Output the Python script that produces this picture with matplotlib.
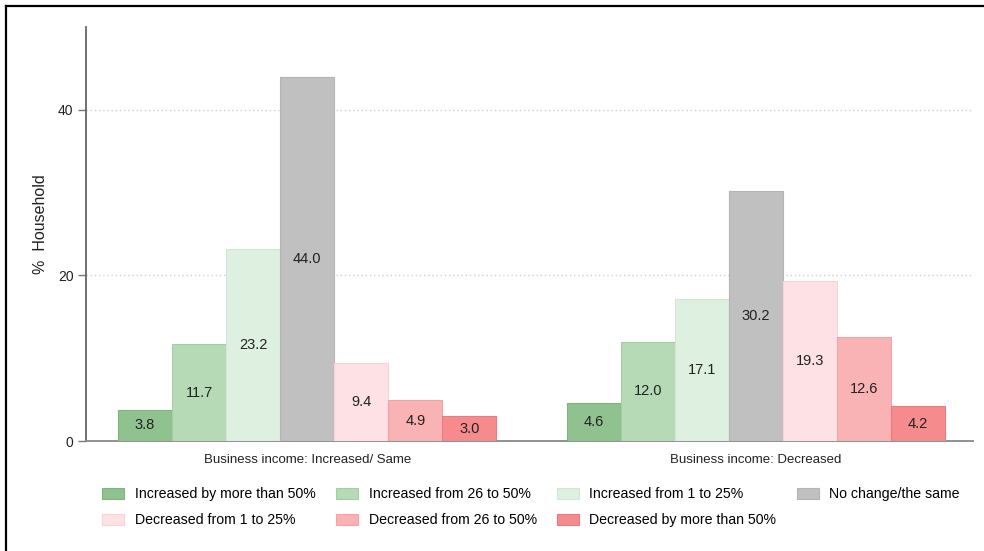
import matplotlib
matplotlib.use('Agg')
import matplotlib.pyplot as plt
from matplotlib.lines import Line2D
import numpy as np

plt.rcParams['font.family'] = ['Liberation Sans', 'DejaVu Sans']

groups = ['Business income: Increased/ Same', 'Business income: Decreased']
series = [
    'Increased by more than 50%',
    'Increased from 26 to 50%',
    'Increased from 1 to 25%',
    'No change/the same',
    'Decreased from 1 to 25%',
    'Decreased from 26 to 50%',
    'Decreased by more than 50%',
]
values = [
    [3.8, 4.6],
    [11.7, 12.0],
    [23.2, 17.1],
    [44.0, 30.2],
    [9.4, 19.3],
    [4.9, 12.6],
    [3.0, 4.2],
]
colors = ['#8fc28f', '#b5dab5', '#def0e0', '#c0c0c0', '#fde1e4', '#f9b3b5', '#f68b8e']
edges = ['#7fb47f', '#a5cca5', '#d2e6d4', '#b4b4b4', '#f5d3d6', '#eea5a7', '#ea7c80']

fig = plt.figure(figsize=(9.84, 5.51), dpi=100)
ax = fig.add_axes([0.0874, 0.1996, 0.9014, 0.7514])

x = np.arange(len(groups))
w = 0.1205
handles = []
for i, (name, vals) in enumerate(zip(series, values)):
    pos = x + (i - 3) * w
    b = ax.bar(pos, vals, width=w, color=colors[i], edgecolor=edges[i],
               linewidth=0.8, label=name, zorder=3)
    handles.append(b)
    for p, v in zip(pos, vals):
        ax.text(p, v / 2, f'{v:.1f}', ha='center', va='center',
                fontsize=10.5, color='#222222', zorder=4)

ax.set_xlim(-0.493, 1.484)
ax.set_ylim(0, 50)
ax.set_yticks([0, 20, 40])
ax.tick_params(axis='y', labelsize=10, length=6, width=1, color='#777777',
               labelcolor='#222222', pad=3)
ax.set_xticks(x)
ax.set_xticklabels(groups, fontsize=9.5, color='#222222')
ax.tick_params(axis='x', length=0, pad=9)
ax.set_ylabel('%  Household', fontsize=11.5, color='#222222')
ax.yaxis.set_label_coords(-0.043, 0.524)

for yv in [20, 40]:
    ax.axhline(yv, color='#cfcfcf', linestyle=(0, (1, 2)), linewidth=1, zorder=1)

for s in ['top', 'right']:
    ax.spines[s].set_visible(False)
ax.spines['left'].set_color('#666666')
ax.spines['left'].set_linewidth(1.3)
ax.spines['bottom'].set_color('#888888')
ax.spines['bottom'].set_linewidth(1.3)

order = [0, 4, 1, 5, 2, 6, 3]
fig.legend([handles[k] for k in order], [series[k] for k in order],
           ncol=4, loc='upper left', bbox_to_anchor=(0.104, 0.116),
           frameon=False, fontsize=10.2, handlelength=1.55, handleheight=0.8,
           handletextpad=0.75, columnspacing=1.43, labelspacing=0.85,
           borderpad=0, borderaxespad=0)

# outer frame (only top and left visible in the crop)
fig.add_artist(Line2D([0.0061, 1.0], [0.989, 0.989], color='black', linewidth=1.6,
                      transform=fig.transFigure))
fig.add_artist(Line2D([0.0061, 0.0061], [0.0, 0.989], color='black', linewidth=1.6,
                      transform=fig.transFigure))

fig.savefig('out.png', dpi=100)
